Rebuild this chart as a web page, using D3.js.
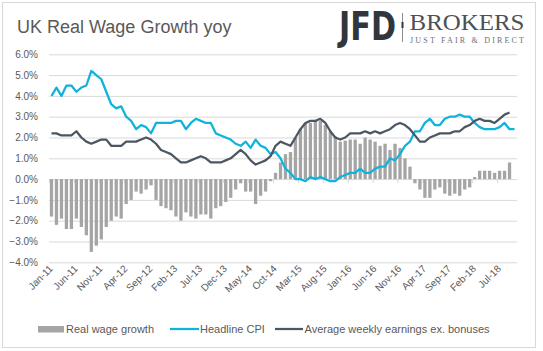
<!DOCTYPE html>
<html>
<head>
<meta charset="utf-8">
<script src="https://cdn.jsdelivr.net/npm/d3@7"></script>
<style>
  body { margin: 0; background: #fff; }
  svg text { font-family: "Liberation Sans", Arial, sans-serif; }
</style>
</head>
<body>
<div id="container"></div>
<script>
const width = 543, height = 351;
const plot = {left: 49, right: 517, top: 54.3, bottom: 262.3};

// monthly categories Jan-11 .. Oct-18
const fmt = d3.timeFormat("%b-%y");
const months = d3.timeMonth.range(new Date(2011, 0, 1), new Date(2018, 10, 1)).map(fmt);

const xTickLabels = ["Jan-11","Jun-11","Nov-11","Apr-12","Sep-12","Feb-13","Jul-13","Dec-13",
  "May-14","Oct-14","Mar-15","Aug-15","Jan-16","Jun-16","Nov-16","Apr-17","Sep-17","Feb-18","Jul-18"];
const yTicks = [-4, -3, -2, -1, 0, 1, 2, 3, 4, 5, 6];

// Headline CPI yoy (%), Jan-11 .. Oct-18
const cpi = [
  4.0,4.4,4.0,4.5,4.5,4.2,4.4,4.5,5.2,5.0,4.8,4.2,
  3.6,3.4,3.5,3.0,2.8,2.4,2.6,2.5,2.2,2.7,2.7,2.7,
  2.7,2.8,2.8,2.4,2.7,2.9,2.8,2.7,2.7,2.2,2.1,2.0,
  1.9,1.7,1.6,1.8,1.5,1.9,1.6,1.5,1.2,1.3,1.0,0.5,
  0.3,0.0,0.0,-0.1,0.1,0.0,0.1,0.0,-0.1,-0.1,0.1,0.2,
  0.3,0.3,0.5,0.3,0.3,0.5,0.6,0.6,1.0,0.9,1.2,1.6,
  1.8,2.3,2.3,2.7,2.9,2.6,2.6,2.9,3.0,3.0,3.1,3.0,
  3.0,2.7,2.5,2.4,2.4,2.4,2.5,2.7,2.4,2.4
];

// Average weekly earnings ex. bonuses (%), Jan-11 .. Sep-18
const wages = [
  2.2,2.2,2.1,2.1,2.1,2.3,2.0,1.8,1.7,1.8,1.9,1.9,
  1.6,1.6,1.6,1.8,1.8,1.8,1.9,2.0,1.9,1.7,1.4,1.3,
  1.2,1.0,0.8,0.8,0.9,1.0,1.1,1.0,0.8,0.8,0.8,0.9,
  1.0,1.2,1.4,1.2,0.9,0.7,0.8,0.9,1.1,1.6,1.8,1.7,
  1.6,2.0,2.4,2.7,2.8,2.8,2.9,2.7,2.3,2.0,1.9,2.0,
  2.2,2.2,2.2,2.3,2.2,2.3,2.2,2.3,2.4,2.6,2.7,2.6,
  2.4,2.1,1.8,1.8,2.0,2.1,2.2,2.2,2.2,2.3,2.3,2.5,
  2.6,2.8,2.9,2.8,2.8,2.7,2.9,3.1,3.2
];

// Real wage growth (%), Jan-11 .. Sep-18
const realWage = [
  -1.8,-2.2,-1.9,-2.4,-2.4,-1.9,-2.3,-2.7,-3.5,-3.2,-2.9,-2.3,
  -2.0,-1.8,-1.9,-1.2,-1.0,-0.6,-0.7,-0.5,-0.3,-1.0,-1.3,-1.4,
  -1.5,-1.8,-2.0,-1.6,-1.8,-1.9,-1.7,-1.7,-1.9,-1.4,-1.3,-1.1,
  -0.9,-0.5,-0.2,-0.6,-0.6,-1.2,-0.8,-0.6,-0.1,0.3,0.8,1.2,
  1.3,2.0,2.4,2.7,2.7,2.8,2.8,2.6,2.3,2.05,1.8,1.85,
  1.9,1.9,1.7,2.0,1.9,1.8,1.6,1.7,1.4,1.7,1.5,1.0,
  0.6,-0.2,-0.5,-0.9,-0.9,-0.5,-0.4,-0.7,-0.8,-0.7,-0.8,-0.5,
  -0.4,0.1,0.4,0.4,0.4,0.3,0.4,0.4,0.8
];

const colors = {bar: "#a5a5a5", cpi: "#0fb3db", wages: "#4b5763", grid: "#d9d9d9", text: "#595959"};

const svg = d3.select("#container").append("svg")
  .attr("width", width)
  .attr("height", height);

// outer frame
svg.append("rect")
  .attr("x", 2.5).attr("y", 2.5)
  .attr("width", 533).attr("height", 345)
  .attr("fill", "#fff").attr("stroke", "#d9d9d9");

// title
svg.append("text")
  .attr("x", 17).attr("y", 33)
  .attr("font-size", 18).attr("fill", colors.text)
  .text("UK Real Wage Growth yoy");

// logo (style() so the css font rule does not win)
const logo = svg.append("g");
logo.append("text")
  .attr("x", 339).attr("y", 40)
  .attr("font-size", 39).attr("font-weight", "bold")
  .style("font-family", "'DejaVu Sans', sans-serif")
  .attr("textLength", 57).attr("lengthAdjust", "spacingAndGlyphs")
  .attr("fill", "#30363c")
  .text("JFD");
logo.append("line")
  .attr("x1", 402.5).attr("x2", 402.5).attr("y1", 13).attr("y2", 42)
  .attr("stroke", "#8a8e92").attr("stroke-width", 1);
logo.append("rect")
  .attr("x", 401.5).attr("y", 22).attr("width", 2).attr("height", 6)
  .attr("fill", "#30363c");
logo.append("text")
  .attr("x", 409.5).attr("y", 30)
  .attr("font-size", 23)
  .style("font-family", "'Liberation Serif', serif")
  .attr("textLength", 115).attr("lengthAdjust", "spacingAndGlyphs")
  .attr("fill", "#4c5156")
  .text("BROKERS");
logo.append("text")
  .attr("x", 410).attr("y", 42.5)
  .attr("font-size", 8)
  .style("font-family", "'Liberation Serif', serif")
  .attr("textLength", 114).attr("lengthAdjust", "spacing")
  .attr("fill", "#6b6f73")
  .text("JUST FAIR & DIRECT");

/* SCALES */
const x = d3.scaleBand()
  .domain(months)
  .range([plot.left, plot.right])
  .padding(0);

const y = d3.scaleLinear()
  .domain([-4, 6])
  .range([plot.bottom, plot.top]);

const bw = x.bandwidth();
const cx = i => x(months[i]) + bw / 2;

// gridlines + y labels
svg.append("g")
  .attr("transform", `translate(${plot.left},0)`)
  .call(d3.axisLeft(y)
    .tickValues(yTicks)
    .tickSize(-(plot.right - plot.left))
    .tickPadding(11)
    .tickFormat(d => d3.format(".1f")(d) + "%"))
  .call(g => g.select(".domain").remove())
  .call(g => g.selectAll(".tick line").attr("stroke", colors.grid))
  .call(g => g.selectAll(".tick text")
    .attr("fill", colors.text)
    .attr("font-size", 10));

// small tick marks on the zero line
svg.append("g")
  .selectAll("line")
  .data(xTickLabels)
  .join("line")
  .attr("x1", d => x(d) + 0.5).attr("x2", d => x(d) + 0.5)
  .attr("y1", y(0)).attr("y2", y(0) + 4)
  .attr("stroke", colors.grid);

// x labels along the bottom
svg.append("g")
  .attr("transform", `translate(0,${plot.bottom})`)
  .call(d3.axisBottom(x).tickValues(xTickLabels).tickSize(0).tickFormat(d => d))
  .call(g => g.select(".domain").remove())
  .call(g => g.selectAll(".tick text")
    .attr("fill", colors.text)
    .attr("font-size", 10)
    .attr("text-anchor", "end")
    .attr("dy", null)
    .attr("y", 0)
    .attr("transform", "translate(2,7) rotate(-45)"));

// bars
svg.append("g")
  .selectAll("rect")
  .data(realWage)
  .join("rect")
  .attr("x", (d, i) => x(months[i]) + bw * 0.17)
  .attr("width", bw * 0.66)
  .attr("y", d => Math.min(y(d), y(0)))
  .attr("height", d => Math.abs(y(d) - y(0)))
  .attr("fill", colors.bar);

const line = d3.line()
  .x((d, i) => cx(i))
  .y(d => y(d));

svg.append("path")
  .datum(cpi)
  .attr("d", line)
  .attr("fill", "none")
  .attr("stroke", colors.cpi)
  .attr("stroke-width", 2.25)
  .attr("stroke-linejoin", "round");

svg.append("path")
  .datum(wages)
  .attr("d", line)
  .attr("fill", "none")
  .attr("stroke", colors.wages)
  .attr("stroke-width", 2.25)
  .attr("stroke-linejoin", "round");

// legend
const legend = svg.append("g").attr("font-size", 11).attr("fill", colors.text);
legend.append("rect")
  .attr("x", 38).attr("y", 326).attr("width", 26).attr("height", 6.5)
  .attr("fill", colors.bar);
legend.append("text").attr("x", 66).attr("y", 333).attr("fill", colors.text).text("Real wage growth");
legend.append("line")
  .attr("x1", 170).attr("x2", 199).attr("y1", 329).attr("y2", 329)
  .attr("stroke", colors.cpi).attr("stroke-width", 2.25);
legend.append("text").attr("x", 200).attr("y", 333).attr("fill", colors.text).text("Headline CPI");
legend.append("line")
  .attr("x1", 275).attr("x2", 303).attr("y1", 329).attr("y2", 329)
  .attr("stroke", colors.wages).attr("stroke-width", 2.25);
legend.append("text").attr("x", 304.5).attr("y", 333).attr("fill", colors.text).text("Average weekly earnings ex. bonuses");
</script>
</body>
</html>
